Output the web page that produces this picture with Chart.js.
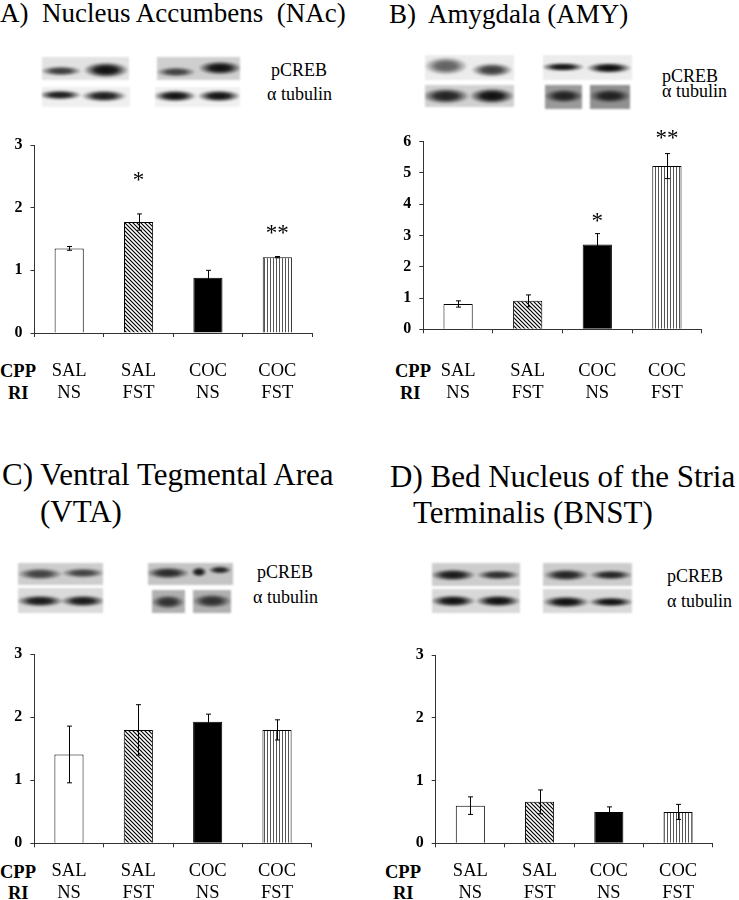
<!DOCTYPE html>
<html><head><meta charset="utf-8">
<script src="https://cdn.jsdelivr.net/npm/chart.js@4.4.0/dist/chart.umd.min.js"></script>
<style>
html,body{margin:0;padding:0;background:#fff;}
#page{position:relative;width:739px;height:900px;overflow:hidden;font-family:"Liberation Serif";color:#000;}
.t{position:absolute;white-space:pre;line-height:1;}
.cv{position:absolute;}
.blot{position:absolute;}
</style></head><body><div id="page"></div>
<script>
// ---------- data ----------
const categories = [['SAL','NS'],['SAL','FST'],['COC','NS'],['COC','FST']];
const rowNames = ['CPP','RI'];
const nacValues = [1.35, 1.77, 0.88, 1.21];
const nacErrors = [0.03, 0.13, 0.12, 0.01];
const nacStars  = ['', '*', '', '**'];
const nacTicks  = [0, 1, 2, 3];
const amyValues = [0.81, 0.91, 2.71, 5.22];
const amyErrors = [0.10, 0.19, 0.35, 0.40];
const amyStars  = ['', '', '*', '**'];
const amyTicks  = [0, 1, 2, 3, 4, 5, 6];
const vtaValues = [1.41, 1.80, 1.93, 1.80];
const vtaErrors = [0.45, 0.40, 0.12, 0.16];
const vtaStars  = ['', '', '', ''];
const vtaTicks  = [0, 1, 2, 3];
const bnstValues = [0.60, 0.66, 0.50, 0.50];
const bnstErrors = [0.14, 0.19, 0.08, 0.12];
const bnstStars  = ['', '', '', ''];
const bnstTicks  = [0, 1, 2, 3];

// ---------- layout / styles ----------
const page = document.getElementById('page');
const SERIF = '"Liberation Serif"';

function text(str, left, baseline, size, bold){
  const d = document.createElement('div');
  d.className = 't';
  d.textContent = str;
  d.style.left = left + 'px';
  d.style.top = (baseline - 0.8375 * size) + 'px';
  d.style.fontSize = size + 'px';
  if (bold) d.style.fontWeight = 'bold';
  page.appendChild(d);
}

// western blot pictures (decoration only)
const blots = [
  {x:42,y:57,w:87,h:23,bg:'#e2e2e2',b:[[61,71,21,5,0.75],[106,70,23,8,0.95]]},
  {x:42,y:87,w:88,h:20,bg:'#efefef',b:[[60,95,22,5,0.9],[104,96,23,6,0.9]]},
  {x:157,y:57,w:83,h:23,bg:'#cfcfcf',b:[[176,72,20,5,0.7],[220,68,22,7,0.95]]},
  {x:155,y:87,w:85,h:20,bg:'#f0f0f0',b:[[175,96,22,6,0.95],[219,96,22,6,0.95]]},
  {x:425,y:55,w:89,h:25,bg:'#ececec',b:[[446,66,22,9,0.6],[492,70,21,7,0.75]]},
  {x:425,y:85,w:89,h:22,bg:'#d0d0d0',b:[[446,96,24,8,0.85],[492,96,23,8,0.95]]},
  {x:543,y:55,w:89,h:25,bg:'#ececec',b:[[563,67,22,4.5,0.95],[609,68,23,5.5,0.97]]},
  {x:545,y:85,w:37,h:24,bg:'#9a9a9a',b:[[564,96,20,7,0.8]]},
  {x:590,y:85,w:40,h:24,bg:'#909090',b:[[610,96,21,7,0.8]]},
  {x:18,y:563,w:85,h:22,bg:'#cdcdcd',b:[[40,574,23,6,0.7],[83,573,22,5,0.7]]},
  {x:18,y:588,w:85,h:25,bg:'#dadada',b:[[40,601,24,6,0.9],[83,601,23,6,0.9]]},
  {x:148,y:563,w:85,h:22,bg:'#c4c4c4',b:[[168,573,22,6,0.8],[199,572,8,5,0.9],[220,570,12,4,0.85]]},
  {x:152,y:590,w:33,h:23,bg:'#b0b0b0',b:[[168,602,17,7,0.75]]},
  {x:193,y:590,w:38,h:23,bg:'#b0b0b0',b:[[212,601,20,7,0.75]]},
  {x:432,y:563,w:88,h:23,bg:'#cdcdcd',b:[[453,575,23,6,0.9],[498,575,22,5,0.8]]},
  {x:432,y:589,w:88,h:24,bg:'#d8d8d8',b:[[453,601,23,6,0.95],[498,601,23,6,0.95]]},
  {x:543,y:563,w:89,h:23,bg:'#cccccc',b:[[566,575,23,6,0.85],[611,575,22,5,0.85]]},
  {x:543,y:589,w:89,h:24,bg:'#d8d8d8',b:[[566,602,24,6,0.95],[611,602,23,5,0.95]]}
];
blots.forEach(bl => {
  const d = document.createElement('div');
  d.className = 'blot';
  d.style.left = bl.x + 'px'; d.style.top = bl.y + 'px';
  d.style.width = bl.w + 'px'; d.style.height = bl.h + 'px';
  const g = bl.b.map(([cx, cy, rx, ry, a]) =>
    `radial-gradient(${rx}px ${ry}px at ${cx - bl.x}px ${cy - bl.y}px, rgba(0,0,0,${a}) 0%, rgba(0,0,0,${(a * 0.9).toFixed(3)}) 45%, rgba(0,0,0,0) 100%)`);
  d.style.background = g.join(',') + ',' + bl.bg;
  d.style.filter = 'blur(0.8px)';
  page.appendChild(d);
});

// titles and labels
text('A)  Nucleus Accumbens  (NAc)', 0, 23, 27);
text('B)  Amygdala (AMY)', 389, 24, 27);
text('C) Ventral Tegmental Area', 2, 485, 31);
text('(VTA)', 40, 522, 31);
text('D) Bed Nucleus of the Stria', 390, 487, 31);
text('Terminalis (BNST)', 413, 523, 31);
text('pCREB', 271, 76, 18); text('\u03b1 tubulin', 267, 100, 18);
text('pCREB', 662, 82, 18); text('\u03b1 tubulin', 662, 97, 18);
text('pCREB', 257, 578, 18); text('\u03b1 tubulin', 253, 603, 18);
text('pCREB', 667, 582, 18); text('\u03b1 tubulin', 667, 607, 18);
[[0,377,8,399],[395,377,400,399],[0,878,8,899],[385,878,393,899]].forEach(p => {
  text(rowNames[0], p[0], p[1], 18.5, true);
  text(rowNames[1], p[2], p[3], 18.5, true);
});

// bar fills
function hatchPattern(){
  const c = document.createElement('canvas'); c.width = c.height = 4;
  const g = c.getContext('2d');
  g.fillStyle = '#fff'; g.fillRect(0, 0, 4, 4);
  g.strokeStyle = '#000'; g.lineWidth = 1.2;
  g.beginPath();
  g.moveTo(-1, -1); g.lineTo(5, 5);
  g.moveTo(3, -1); g.lineTo(5, 1);
  g.moveTo(-1, 3); g.lineTo(1, 5);
  g.stroke();
  return g.createPattern(c, 'repeat');
}
function vertPattern(){
  const c = document.createElement('canvas'); c.width = 3; c.height = 3;
  const g = c.getContext('2d');
  g.fillStyle = '#fff'; g.fillRect(0, 0, 3, 3);
  g.fillStyle = '#555'; g.fillRect(0, 0, 1, 3);
  return g.createPattern(c, 'repeat');
}
const fills = ['#ffffff', hatchPattern(), '#000000', vertPattern()];

const errorBars = {
  id: 'errorBars',
  afterDatasetsDraw(chart, args, opts){
    const ctx = chart.ctx, y = chart.scales.y;
    const meta = chart.getDatasetMeta(0);
    const ds = chart.data.datasets[0];
    ctx.save();
    ctx.strokeStyle = '#000'; ctx.lineWidth = 1;
    meta.data.forEach((bar, i) => {
      const v = ds.data[i], e = opts.errors[i];
      const x = Math.round(bar.x) + 0.5;
      const yt = y.getPixelForValue(v + e), yb = y.getPixelForValue(v - e);
      ctx.beginPath();
      ctx.moveTo(x, yt); ctx.lineTo(x, yb);
      ctx.moveTo(x - 2.5, yt); ctx.lineTo(x + 2.5, yt);
      ctx.moveTo(x - 2.5, yb); ctx.lineTo(x + 2.5, yb);
      ctx.stroke();
      if (opts.stars[i]) {
        ctx.fillStyle = '#000';
        ctx.font = '23px ' + SERIF;
        ctx.textAlign = 'center'; ctx.textBaseline = 'middle';
        ctx.fillText(opts.stars[i], bar.x, yt - opts.starGap[i]);
      }
    });
    ctx.restore();
  }
};

function makeChart(cfg){
  const cv = document.createElement('canvas');
  cv.className = 'cv';
  cv.width = cfg.W; cv.height = cfg.H;
  cv.style.left = cfg.L + 'px'; cv.style.top = cfg.T + 'px';
  cv.style.width = cfg.W + 'px'; cv.style.height = cfg.H + 'px';
  page.appendChild(cv);
  const axisColor = '#333';
  new Chart(cv, {
    type: 'bar',
    data: {
      labels: categories,
      datasets: [{
        data: cfg.values,
        backgroundColor: fills,
        borderColor: '#000',
        borderWidth: 1,
        barPercentage: 0.42,
        categoryPercentage: 1
      }]
    },
    plugins: [errorBars],
    options: {
      responsive: false,
      animation: false,
      devicePixelRatio: 1,
      layout: {padding: {top: cfg.areaTop - cfg.T, right: cfg.L + cfg.W - cfg.areaRight, left: 0, bottom: 0}},
      plugins: {
        legend: {display: false},
        tooltip: {enabled: false},
        errorBars: {errors: cfg.errors, stars: cfg.stars, starGap: cfg.starGap}
      },
      scales: {
        x: {
          offset: true,
          grid: {display: true, offset: true, drawOnChartArea: false, drawTicks: true, tickLength: 4, color: axisColor},
          border: {display: true, color: axisColor, width: 1},
          ticks: {color: '#000', font: {family: SERIF, size: 18.5, lineHeight: 22 / 18.5}, padding: cfg.xPad, maxRotation: 0, minRotation: 0, autoSkip: false},
          afterFit(s){ s.height = cfg.T + cfg.H - cfg.areaBottom; }
        },
        y: {
          min: 0, max: cfg.ticks[cfg.ticks.length - 1],
          afterBuildTicks(s){ s.ticks = cfg.ticks.map(v => ({value: v})); },
          ticks: {color: '#000', font: {family: SERIF, size: 16, weight: 'bold'}, padding: 8},
          grid: {display: true, drawOnChartArea: false, drawTicks: true, tickLength: 4, color: axisColor},
          border: {display: true, color: axisColor, width: 1},
          afterFit(s){ s.width = cfg.areaLeft - cfg.L; }
        }
      }
    }
  });
}

makeChart({L:0, T:118, W:370, H:300, areaLeft:34.5, areaRight:312, areaTop:145, areaBottom:333, xPad:23,
  values:nacValues, errors:nacErrors, stars:nacStars, ticks:nacTicks, starGap:[0,33,0,23]});
makeChart({L:370, T:118, W:369, H:300, areaLeft:423.3, areaRight:701.7, areaTop:141.7, areaBottom:329.3, xPad:26.6,
  values:amyValues, errors:amyErrors, stars:amyStars, ticks:amyTicks, starGap:[0,0,12,15]});
makeChart({L:0, T:630, W:370, H:270, areaLeft:34.3, areaRight:311.7, areaTop:654.3, areaBottom:843.3, xPad:13.3,
  values:vtaValues, errors:vtaErrors, stars:vtaStars, ticks:vtaTicks, starGap:[0,0,0,0]});
makeChart({L:370, T:630, W:369, H:270, areaLeft:435.7, areaRight:712.7, areaTop:655, areaBottom:843.3, xPad:13.3,
  values:bnstValues, errors:bnstErrors, stars:bnstStars, ticks:bnstTicks, starGap:[0,0,0,0]});
</script></body></html>
